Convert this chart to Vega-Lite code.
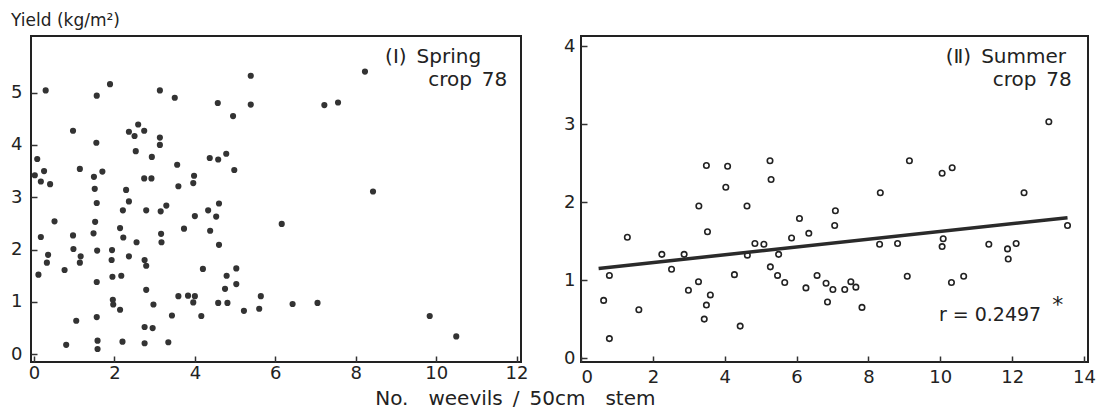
{
  "$schema": "https://vega.github.io/schema/vega-lite/v6.json",
  "background": "white",
  "padding": {"left": 9, "top": 11, "right": 0, "bottom": 5},
  "config": {
    "view": {"stroke": "#222", "strokeWidth": 2},
    "font": "DejaVu Sans",
    "axis": {"domain": false, "grid": false, "ticks": true, "tickSize": -6, "tickColor": "#333", "tickWidth": 1.5, "labelFont": "DejaVu Sans", "labelFontSize": 18, "labelColor": "#222", "title": null, "format": "d"}
  },
  "datasets": {
    "spring": [
      {"weevils":0.29,"yield":5.04},{"weevils":1.89,"yield":5.16},{"weevils":1.56,"yield":4.94},{"weevils":3.13,"yield":5.04},{"weevils":3.50,"yield":4.90},{"weevils":5.39,"yield":5.32},{"weevils":4.57,"yield":4.80},{"weevils":5.39,"yield":4.77},{"weevils":4.95,"yield":4.55},{"weevils":0.97,"yield":4.27},{"weevils":2.36,"yield":4.25},{"weevils":2.50,"yield":4.17},{"weevils":2.59,"yield":4.39},{"weevils":2.74,"yield":4.27},{"weevils":1.55,"yield":4.04},{"weevils":3.13,"yield":4.14},{"weevils":3.13,"yield":4.00},{"weevils":2.53,"yield":3.88},{"weevils":2.93,"yield":3.77},{"weevils":0.08,"yield":3.73},{"weevils":4.37,"yield":3.75},{"weevils":4.58,"yield":3.72},{"weevils":4.78,"yield":3.83},{"weevils":3.56,"yield":3.62},{"weevils":4.98,"yield":3.52},{"weevils":1.14,"yield":3.54},{"weevils":1.70,"yield":3.49},{"weevils":1.49,"yield":3.39},{"weevils":0.02,"yield":3.42},{"weevils":0.25,"yield":3.50},{"weevils":0.17,"yield":3.30},{"weevils":0.40,"yield":3.25},{"weevils":2.74,"yield":3.36},{"weevils":2.92,"yield":3.36},{"weevils":3.98,"yield":3.41},{"weevils":3.96,"yield":3.27},{"weevils":3.59,"yield":3.21},{"weevils":1.51,"yield":3.16},{"weevils":2.29,"yield":3.14},{"weevils":8.23,"yield":5.40},{"weevils":7.22,"yield":4.76},{"weevils":7.56,"yield":4.81},{"weevils":8.43,"yield":3.11},{"weevils":1.56,"yield":2.89},{"weevils":2.36,"yield":2.92},{"weevils":2.21,"yield":2.75},{"weevils":2.79,"yield":2.75},{"weevils":3.15,"yield":2.73},{"weevils":3.29,"yield":2.84},{"weevils":4.00,"yield":2.64},{"weevils":4.33,"yield":2.75},{"weevils":4.53,"yield":2.63},{"weevils":4.60,"yield":2.88},{"weevils":0.51,"yield":2.54},{"weevils":1.52,"yield":2.53},{"weevils":0.17,"yield":2.24},{"weevils":0.97,"yield":2.27},{"weevils":1.48,"yield":2.31},{"weevils":2.14,"yield":2.41},{"weevils":2.22,"yield":2.23},{"weevils":3.16,"yield":2.30},{"weevils":3.17,"yield":2.14},{"weevils":3.73,"yield":2.40},{"weevils":4.38,"yield":2.36},{"weevils":2.55,"yield":2.14},{"weevils":4.60,"yield":2.09},{"weevils":0.98,"yield":2.01},{"weevils":1.57,"yield":1.98},{"weevils":1.94,"yield":1.99},{"weevils":0.35,"yield":1.90},{"weevils":0.32,"yield":1.75},{"weevils":1.16,"yield":1.87},{"weevils":1.14,"yield":1.75},{"weevils":1.93,"yield":1.80},{"weevils":2.36,"yield":1.87},{"weevils":2.75,"yield":1.80},{"weevils":2.79,"yield":1.69},{"weevils":0.11,"yield":1.52},{"weevils":0.76,"yield":1.61},{"weevils":1.95,"yield":1.48},{"weevils":2.17,"yield":1.50},{"weevils":4.20,"yield":1.63},{"weevils":4.79,"yield":1.50},{"weevils":5.03,"yield":1.64},{"weevils":1.56,"yield":1.38},{"weevils":4.75,"yield":1.25},{"weevils":5.03,"yield":1.34},{"weevils":2.79,"yield":1.23},{"weevils":3.59,"yield":1.11},{"weevils":3.83,"yield":1.12},{"weevils":4.00,"yield":1.11},{"weevils":3.96,"yield":0.99},{"weevils":1.96,"yield":1.04},{"weevils":1.97,"yield":0.95},{"weevils":2.97,"yield":0.95},{"weevils":4.58,"yield":0.98},{"weevils":4.81,"yield":0.98},{"weevils":2.14,"yield":0.85},{"weevils":5.22,"yield":0.83},{"weevils":5.64,"yield":1.11},{"weevils":5.60,"yield":0.87},{"weevils":1.05,"yield":0.64},{"weevils":1.56,"yield":0.71},{"weevils":3.43,"yield":0.74},{"weevils":4.16,"yield":0.73},{"weevils":2.75,"yield":0.52},{"weevils":2.95,"yield":0.50},{"weevils":0.80,"yield":0.18},{"weevils":1.58,"yield":0.26},{"weevils":1.58,"yield":0.10},{"weevils":2.20,"yield":0.24},{"weevils":2.75,"yield":0.21},{"weevils":3.34,"yield":0.23},{"weevils":6.16,"yield":2.49},{"weevils":6.43,"yield":0.96},{"weevils":7.05,"yield":0.98},{"weevils":9.84,"yield":0.73},{"weevils":10.50,"yield":0.34}
    ],
    "summer": [
      {"weevils":3.49,"yield":2.47},{"weevils":4.08,"yield":2.46},{"weevils":5.26,"yield":2.53},{"weevils":5.29,"yield":2.29},{"weevils":4.03,"yield":2.19},{"weevils":3.28,"yield":1.95},{"weevils":4.62,"yield":1.95},{"weevils":13.02,"yield":3.03},{"weevils":9.14,"yield":2.53},{"weevils":10.05,"yield":2.37},{"weevils":10.33,"yield":2.44},{"weevils":8.33,"yield":2.12},{"weevils":12.33,"yield":2.12},{"weevils":6.08,"yield":1.79},{"weevils":6.34,"yield":1.60},{"weevils":3.52,"yield":1.62},{"weevils":1.29,"yield":1.55},{"weevils":5.86,"yield":1.54},{"weevils":4.84,"yield":1.47},{"weevils":5.09,"yield":1.46},{"weevils":4.63,"yield":1.32},{"weevils":5.50,"yield":1.33},{"weevils":2.25,"yield":1.33},{"weevils":2.87,"yield":1.33},{"weevils":2.52,"yield":1.14},{"weevils":5.27,"yield":1.17},{"weevils":4.27,"yield":1.07},{"weevils":5.47,"yield":1.06},{"weevils":5.67,"yield":0.97},{"weevils":0.79,"yield":1.06},{"weevils":3.27,"yield":0.98},{"weevils":2.99,"yield":0.87},{"weevils":6.26,"yield":0.90},{"weevils":6.57,"yield":1.06},{"weevils":0.63,"yield":0.74},{"weevils":1.61,"yield":0.62},{"weevils":3.60,"yield":0.81},{"weevils":3.49,"yield":0.68},{"weevils":3.43,"yield":0.50},{"weevils":4.43,"yield":0.41},{"weevils":0.79,"yield":0.25},{"weevils":7.08,"yield":1.89},{"weevils":7.06,"yield":1.70},{"weevils":8.31,"yield":1.46},{"weevils":8.81,"yield":1.47},{"weevils":10.08,"yield":1.53},{"weevils":10.05,"yield":1.43},{"weevils":11.35,"yield":1.46},{"weevils":11.87,"yield":1.40},{"weevils":12.11,"yield":1.47},{"weevils":11.89,"yield":1.27},{"weevils":13.54,"yield":1.70},{"weevils":6.82,"yield":0.96},{"weevils":7.01,"yield":0.88},{"weevils":6.86,"yield":0.72},{"weevils":7.34,"yield":0.88},{"weevils":7.51,"yield":0.98},{"weevils":7.65,"yield":0.91},{"weevils":7.82,"yield":0.65},{"weevils":9.08,"yield":1.05},{"weevils":10.31,"yield":0.97},{"weevils":10.65,"yield":1.05}
    ],
    "summerFit": [
      {"weevils":0.49,"yield":1.15},{"weevils":13.54,"yield":1.80}
    ],
    "one": [{"n": 1}]
  },
  "bounds": "flush",
  "spacing": 60,
  "hconcat": [
    {
      "width": 490,
      "height": 326,
      "layer": [
        {"data": {"name": "spring"}, "mark": {"type": "circle", "size": 38, "color": "#333", "opacity": 1},
         "encoding": {
           "x": {"field": "weevils", "type": "quantitative", "scale": {"domain": [-0.075, 12.11], "nice": false, "zero": false}, "axis": {"values": [0, 2, 4, 6, 8, 10, 12], "format": "d", "labelPadding": 8, "title": null}},
           "y": {"field": "yield", "type": "quantitative", "scale": {"domain": [-0.148, 6.08], "nice": false, "zero": false}, "axis": {"values": [0, 1, 2, 3, 4, 5], "format": "d", "labelPadding": 15, "title": null}}
         }},
        {"data": {"name": "one"}, "mark": {"type": "text", "text": "(Ⅰ)\u2002Spring", "align": "left", "baseline": "middle", "fontSize": 20, "color": "#222"},
         "encoding": {"x": {"datum": 8.73, "type": "quantitative"}, "y": {"datum": 5.67, "type": "quantitative"}}},
        {"data": {"name": "one"}, "mark": {"type": "text", "text": "crop\u200278", "align": "right", "baseline": "middle", "fontSize": 20, "color": "#222"},
         "encoding": {"x": {"datum": 11.77, "type": "quantitative"}, "y": {"datum": 5.23, "type": "quantitative"}}},
        {"data": {"name": "one"}, "mark": {"type": "text", "text": "Yield (kg/m²)", "align": "left", "baseline": "middle", "fontSize": 17, "color": "#222"},
         "encoding": {"x": {"datum": -0.57, "type": "quantitative"}, "y": {"datum": 6.36, "type": "quantitative"}}},
        {"data": {"name": "one"}, "mark": {"type": "text", "text": "No.\u2003weevils\u2002/\u200250cm\u2003stem", "align": "center", "baseline": "middle", "fontSize": 20, "color": "#222"},
         "encoding": {"x": {"datum": 11.97, "type": "quantitative"}, "y": {"datum": -0.85, "type": "quantitative"}}}
      ]
    },
    {
      "width": 507,
      "height": 326,
      "layer": [
        {"data": {"name": "summer"}, "mark": {"type": "point", "shape": "circle", "filled": false, "size": 30, "strokeWidth": 1.6, "color": "#222", "opacity": 1},
         "encoding": {
           "x": {"field": "weevils", "type": "quantitative", "scale": {"domain": [0, 14.11], "nice": false, "zero": false}, "axis": {"values": [0, 2, 4, 6, 8, 10, 12, 14], "format": "d", "labelPadding": 12, "title": null}},
           "y": {"field": "yield", "type": "quantitative", "scale": {"domain": [-0.05, 4.13], "nice": false, "zero": false}, "axis": {"values": [0, 0.5, 1, 1.5, 2, 2.5, 3, 3.5, 4], "format": "d", "labelExpr": "datum.value % 1 == 0 ? datum.label : ''", "labelPadding": 12, "title": null}}
         }},
        {"data": {"name": "summerFit"}, "mark": {"type": "line", "strokeWidth": 3.5, "color": "#2a2a2a"},
         "encoding": {"x": {"field": "weevils", "type": "quantitative"}, "y": {"field": "yield", "type": "quantitative"}}},
        {"data": {"name": "one"}, "mark": {"type": "text", "text": "(Ⅱ)\u2002Summer", "align": "left", "baseline": "middle", "fontSize": 20, "color": "#222"},
         "encoding": {"x": {"datum": 10.15, "type": "quantitative"}, "y": {"datum": 3.86, "type": "quantitative"}}},
        {"data": {"name": "one"}, "mark": {"type": "text", "text": "crop\u200278", "align": "right", "baseline": "middle", "fontSize": 20, "color": "#222"},
         "encoding": {"x": {"datum": 13.66, "type": "quantitative"}, "y": {"datum": 3.56, "type": "quantitative"}}},
        {"data": {"name": "one"}, "mark": {"type": "text", "text": "r = 0.2497", "align": "left", "baseline": "middle", "fontSize": 19, "color": "#222"},
         "encoding": {"x": {"datum": 9.96, "type": "quantitative"}, "y": {"datum": 0.55, "type": "quantitative"}}},
        {"data": {"name": "one"}, "mark": {"type": "text", "text": "*", "align": "center", "baseline": "middle", "fontSize": 22, "color": "#222"},
         "encoding": {"x": {"datum": 13.27, "type": "quantitative"}, "y": {"datum": 0.68, "type": "quantitative"}}}
      ]
    }
  ]
}
